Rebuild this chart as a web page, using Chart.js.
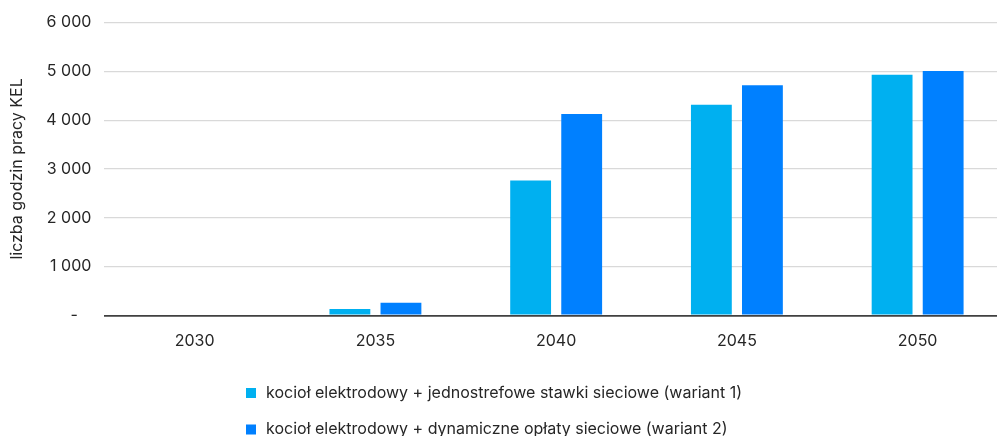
<!DOCTYPE html>
<html>
<head>
<meta charset="utf-8">
<script src="https://cdn.jsdelivr.net/npm/chart.js@4.4.1/dist/chart.umd.min.js"></script>
<style>
  html, body { margin: 0; padding: 0; background: #fff; overflow: hidden; }
  #wrap { width: 1012px; height: 436px; position: relative; }
</style>
</head>
<body>
<div id="wrap"><canvas id="c"></canvas></div>
<script>
// Lata scenariusza
const years = ['2030', '2035', '2040', '2045', '2050'];
// Liczba godzin pracy kotła elektrodowego (KEL)
const wariant1 = [0, 127, 2765, 4316, 4929];
const wariant2 = [0, 255, 4127, 4718, 5010];
const seriesNames = [
  'kocioł elektrodowy + jednostrefowe stawki sieciowe (wariant 1)',
  'kocioł elektrodowy + dynamiczne opłaty sieciowe (wariant 2)'
];
const yTicks = [0, 1000, 2000, 3000, 4000, 5000, 6000];
const yTitle = 'liczba godzin pracy KEL';

const FONT = 'Inter, "Noto Sans", sans-serif';
const TEXT = '#262626';

function fmt(v) {
  if (v === 0) return '-   ';
  return String(v).replace(/\B(?=(\d{3})+(?!\d))/g, ' ');
}

// Legenda rysowana w dwóch wierszach wyrównanych do lewej
const stackedLegend = {
  id: 'stackedLegend',
  afterDraw(chart) {
    const ctx = chart.ctx;
    ctx.save();
    ctx.font = '16px ' + FONT;
    ctx.textBaseline = 'middle';
    ctx.textAlign = 'left';
    const x0 = 246, y0 = 393, step = 36.5;
    chart.data.datasets.forEach((ds, i) => {
      const y = y0 + i * step;
      ctx.fillStyle = ds.backgroundColor;
      ctx.fillRect(x0, y - 5, 10, 10);
      ctx.fillStyle = TEXT;
      ctx.fillText(ds.label, x0 + 20, y);
    });
    ctx.restore();
  }
};

new Chart(document.getElementById('c'), {
  type: 'bar',
  data: {
    labels: years,
    datasets: [
      { label: seriesNames[0], data: wariant1, backgroundColor: '#00B0F0' },
      { label: seriesNames[1], data: wariant2, backgroundColor: '#0080FF' }
    ]
  },
  options: {
    responsive: true,
    maintainAspectRatio: false,
    animation: false,
    layout: { padding: { top: 11, right: 4, bottom: 77.5, left: 7.5 } },
    datasets: { bar: { categoryPercentage: 0.565, barPercentage: 0.8 } },
    plugins: { legend: { display: false }, tooltip: { enabled: false } },
    scales: {
      x: {
        grid: { display: false },
        border: { display: true, color: '#404040', width: 1.5 },
        ticks: { color: TEXT, font: { family: FONT, size: 16 }, padding: 8 }
      },
      y: {
        min: 0,
        max: 6000,
        afterBuildTicks(axis) { axis.ticks = yTicks.map(v => ({ value: v })); },
        border: { display: false },
        grid: {
          drawTicks: false,
          color: ctx => (ctx.tick && ctx.tick.value === 0) ? '#404040' : '#d9d9d9',
          lineWidth: ctx => (ctx.tick && ctx.tick.value === 0) ? 1.5 : 1.2
        },
        ticks: {
          color: TEXT,
          font: { family: FONT, size: 16 },
          padding: 13,
          callback: v => fmt(v)
        },
        title: {
          display: true,
          text: yTitle,
          color: TEXT,
          font: { family: FONT, size: 16 },
          padding: { top: 0, bottom: 6.5 }
        }
      }
    }
  },
  plugins: [stackedLegend]
});
</script>
</body>
</html>
